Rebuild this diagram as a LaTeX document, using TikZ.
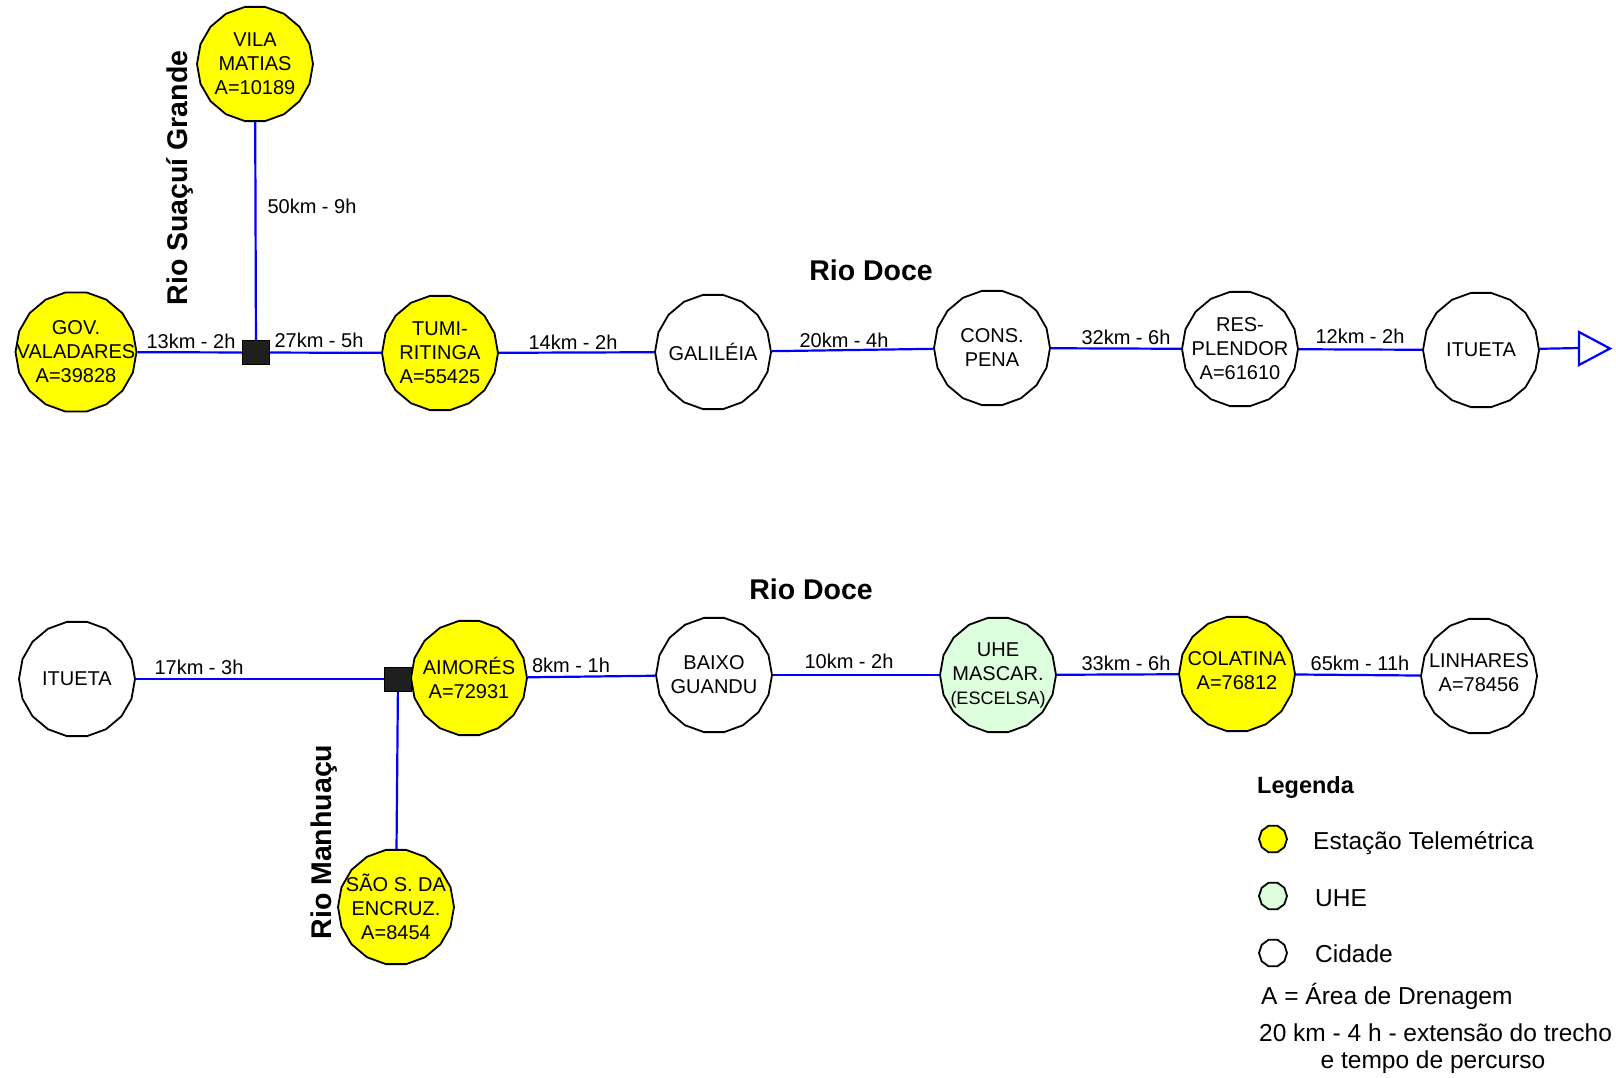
\documentclass[tikz,border=0pt]{standalone}
\usepackage{fontspec}
\setmainfont{Liberation Sans}
\usetikzlibrary{shapes.geometric}
\definecolor{yel}{RGB}{255,255,0}
\definecolor{uhegreen}{RGB}{222,255,222}
\definecolor{riv}{RGB}{0,0,255}
\begin{document}
\begin{tikzpicture}[x=1pt,y=-1pt,
  stn/.style={regular polygon, regular polygon sides=18, minimum size=116pt, inner sep=0pt,
    draw=black, line width=1.8pt},
  tele/.style={stn, fill=yel},
  city/.style={stn, fill=white},
  hydro/.style={stn, fill=uhegreen},
  ntext/.style={align=center, inner sep=0pt, font=\fontsize{20}{24}\selectfont},
  junc/.style={rectangle, fill=black!88, draw=black, line width=1pt, minimum width=27pt, minimum height=24pt, inner sep=0pt},
  river/.style={draw=riv, line width=2.2pt},
  kmlabel/.style={font=\fontsize{20}{24}\selectfont, inner sep=0pt},
  rivername/.style={font=\bfseries\fontsize{28.5}{32}\selectfont, inner sep=0pt},
  legtext/.style={font=\fontsize{24.5}{29}\selectfont, inner sep=0pt, anchor=west},
  legmark/.style={regular polygon, regular polygon sides=10, minimum size=28pt, inner sep=0pt, draw=black, line width=1.8pt},
]
\useasboundingbox (0,0) rectangle (1616,1077);

% ---------- top row ----------
\node[tele] (vila) at (255,64) {};
\node[tele, minimum size=121pt] (gov) at (76,352) {};
\node[tele] (tumi) at (440,353) {};
\node[city] (gal) at (713,352) {};
\node[city] (cons) at (992,348) {};
\node[city] (resp) at (1240,349) {};
\node[city] (itu1) at (1481,350) {};
\coordinate (tri) at (1579,348);

\draw[river] (vila) -- (256,352);
\draw[river] (gov) -- (tumi);
\draw[river] (tumi) -- (gal);
\draw[river] (gal) -- (cons);
\draw[river] (cons) -- (resp);
\draw[river] (resp) -- (itu1);
\draw[river] (itu1) -- (tri);
\draw[draw=riv, line width=2.2pt, line join=miter] (1579,332) -- (1610,348.5) -- (1579,365) -- cycle;

\node[junc] (j1) at (256,352) {};

\node[ntext] (vila-t) at (vila) {VILA\\MATIAS\\A=10189};
\node[ntext] (gov-t) at (gov) {GOV.\\VALADARES\\A=39828};
\node[ntext] (tumi-t) at (tumi) {TUMI-\\RITINGA\\A=55425};
\node[ntext] (gal-t) at (gal) {GALILÉIA};
\node[ntext] (cons-t) at (cons) {CONS.\\PENA};
\node[ntext] (resp-t) at (resp) {RES-\\PLENDOR\\A=61610};
\node[ntext] (itu1-t) at (itu1) {ITUETA};

\node[kmlabel] (l1) at (312,206) {50km - 9h};
\node[kmlabel] (l2) at (191,341) {13km - 2h};
\node[kmlabel] (l3) at (319,340) {27km - 5h};
\node[kmlabel] (l4) at (573,342) {14km - 2h};
\node[kmlabel] (l5) at (844,340) {20km - 4h};
\node[kmlabel] (l6) at (1126,337) {32km - 6h};
\node[kmlabel] (l7) at (1360,336) {12km - 2h};

\node[rivername, rotate=90] (rsg) at (180,178) {Rio Suaçuí Grande};
\node[rivername] (rd1) at (871,270) {Rio Doce};

% ---------- bottom row ----------
\node[city] (itu2) at (77,679) {};
\node[tele] (aim) at (469,678) {};
\node[city] (baixo) at (714,675) {};
\node[hydro] (uhe) at (998,675) {};
\node[tele] (col) at (1237,674) {};
\node[city] (lin) at (1479,676) {};
\node[tele] (sao) at (396,907) {};

\coordinate (j2c) at (398,679);
\draw[river] (itu2) -- (j2c);
\draw[river] (j2c) -- (sao);
\draw[river] (aim) -- (baixo);
\draw[river] (baixo) -- (uhe);
\draw[river] (uhe) -- (col);
\draw[river] (col) -- (lin);
\node[junc] (j2) at (j2c) {};

\node[ntext] (itu2-t) at (itu2) {ITUETA};
\node[ntext] (aim-t) at (aim) {AIMORÉS\\A=72931};
\node[ntext] (baixo-t) at (baixo) {BAIXO\\GUANDU};
\node[ntext] (uhe-t) at (uhe) {UHE\\MASCAR.\\{\fontsize{18}{22}\selectfont(ESCELSA)}};
\node[ntext] (col-t) at (1237,671) {COLATINA\\A=76812};
\node[ntext] (lin-t) at (1479,673) {LINHARES\\A=78456};
\node[ntext] (sao-t) at (sao) {SÃO S. DA\\ENCRUZ.\\A=8454};

\node[kmlabel] (b1) at (199,667) {17km - 3h};
\node[kmlabel] (b2) at (571,665) {8km - 1h};
\node[kmlabel] (b3) at (849,661) {10km - 2h};
\node[kmlabel] (b4) at (1126,663) {33km - 6h};
\node[kmlabel] (b5) at (1360,663) {65km - 11h};

\node[rivername] (rd2) at (811,589) {Rio Doce};
\node[rivername, rotate=90] (rm) at (324,842) {Rio Manhuaçu};

% ---------- legend ----------
\node[font=\bfseries\fontsize{23.5}{28}\selectfont, inner sep=0pt, anchor=west] (legt) at (1257,787) {Legenda};
\node[legmark, fill=yel] (m1) at (1273,839) {};
\node[legmark, fill=uhegreen] (m2) at (1273,896) {};
\node[legmark, fill=white] (m3) at (1273,953) {};
\node[legtext] (t1) at (1313,843) {Estação Telemétrica};
\node[legtext] (t2) at (1315,898) {UHE};
\node[legtext] (t3) at (1315,954) {Cidade};
\node[legtext] (t4) at (1261,996) {A = Área de Drenagem};
\node[legtext] (t5) at (1259,1033) {20 km - 4 h - extensão do trecho};
\node[legtext, anchor=center] (t6) at (1433,1062) {e tempo de percurso};
\end{tikzpicture}
\end{document}
